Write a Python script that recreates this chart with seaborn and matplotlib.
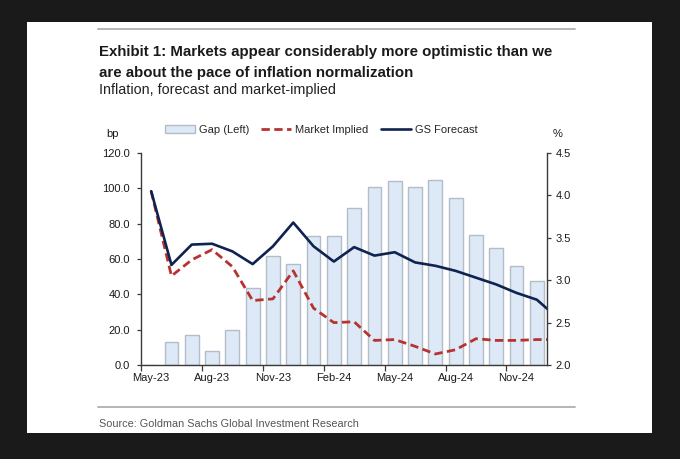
import numpy as np
import pandas as pd
import matplotlib
matplotlib.use("Agg")
import matplotlib.pyplot as plt
import seaborn as sns
from matplotlib.patches import Rectangle, Patch
from matplotlib.lines import Line2D

# ---------------- data ----------------
months = ["May-23", "Jun-23", "Jul-23", "Aug-23", "Sep-23", "Oct-23", "Nov-23",
          "Dec-23", "Jan-24", "Feb-24", "Mar-24", "Apr-24", "May-24", "Jun-24",
          "Jul-24", "Aug-24", "Sep-24", "Oct-24", "Nov-24", "Dec-24"]
gap_bp = [0.0, 13.0, 17.0, 8.0, 20.0, 43.7, 61.7, 57.0, 72.8, 72.8, 88.7,
          101.0, 104.0, 100.7, 104.9, 94.3, 73.6, 66.2, 56.2, 47.5]
line_months = months + ["Jan-25"]
gs_forecast = [4.05, 3.18, 3.42, 3.43, 3.34, 3.19, 3.40, 3.68, 3.40, 3.22, 3.39,
               3.29, 3.33, 3.21, 3.17, 3.11, 3.03, 2.95, 2.85, 2.77, 2.56]
market_implied = [4.05, 3.05, 3.24, 3.36, 3.16, 2.76, 2.78, 3.11, 2.67, 2.50, 2.51,
                  2.29, 2.30, 2.22, 2.13, 2.18, 2.31, 2.29, 2.29, 2.30, 2.30]
left_ticks = [0, 20, 40, 60, 80, 100, 120]
right_ticks = [2.0, 2.5, 3.0, 3.5, 4.0, 4.5]

# ---------------- style ----------------
sns.set_theme(style="white")
plt.rcParams["font.family"] = ["Liberation Sans", "DejaVu Sans"]

W, H = 680, 459
fig = plt.figure(figsize=(W / 100, H / 100), dpi=100)
fig.patch.set_facecolor("#1a1a1a")


def fx(x):
    return x / W


def fy(y):
    return 1 - y / H


# white panel (behind everything)
fig.patches.append(Rectangle((fx(27), fy(433)), (652 - 27) / W, (433 - 22) / H,
                             transform=fig.transFigure, facecolor="white",
                             edgecolor="none", zorder=-10))
# separator lines
for yy in (29, 407):
    fig.add_artist(Line2D([fx(98), fx(575)], [fy(yy), fy(yy)],
                          transform=fig.transFigure, color="#b5b5b5", lw=1.4,
                          zorder=-5))

# texts
fig.text(fx(99), fy(56), "Exhibit 1: Markets appear considerably more optimistic than we",
         weight="bold", fontsize=10.8, color="#1a1a1a", va="baseline")
fig.text(fx(99), fy(77), "are about the pace of inflation normalization",
         weight="bold", fontsize=10.8, color="#1a1a1a", va="baseline")
fig.text(fx(99), fy(94), "Inflation, forecast and market-implied",
         fontsize=10.4, color="#222222", va="baseline")
fig.text(fx(99), fy(427), "Source: Goldman Sachs Global Investment Research",
         fontsize=7.8, color="#555555", va="baseline")
fig.text(fx(113), fy(134), "bp", fontsize=8, color="#1a1a1a", ha="center", va="center")
fig.text(fx(558), fy(134), "%", fontsize=8, color="#1a1a1a", ha="center", va="center")

# axes
ax = fig.add_axes([fx(141), fy(365), (547 - 141) / W, (365 - 153) / H])
ax.set_facecolor("none")

bar_face = "#dde9f6"
bar_edge = "#b3bcc7"
navy = "#0e2350"
red = "#b73330"

df_bar = pd.DataFrame({"month": months, "gap": gap_bp})
sns.barplot(data=df_bar, x="month", y="gap", ax=ax, color=bar_face,
            saturation=1, width=0.68, edgecolor=bar_edge, linewidth=1.0,
            errorbar=None)

ax2 = ax.twinx()
pos = np.arange(len(line_months))
sns.lineplot(x=pos, y=market_implied, ax=ax2, color=red, lw=2.0,
             linestyle=(0, (3.0, 1.6)))
sns.lineplot(x=pos, y=gs_forecast, ax=ax2, color=navy, lw=1.9)

ax.set_ylim(0, 120)
ax2.set_ylim(2.0, 4.5)
ax.set_xlim(-0.5, len(months) - 0.5)
ax2.set_xlim(-0.5, len(months) - 0.5)

ax.set_yticks(left_ticks)
ax.set_yticklabels([f"{v:.1f}" for v in left_ticks])
ax2.set_yticks(right_ticks)
ax2.set_yticklabels([f"{v:.1f}" for v in right_ticks])

major = np.arange(-0.5, len(months) - 1, 3)
ax.set_xticks(major)
ax.set_xticklabels([""] * len(major))
minor = np.arange(0, len(months), 3)
ax.set_xticks(minor, minor=True)
ax.set_xticklabels([months[i] for i in minor], minor=True)
ax.set_xlabel("")
ax.set_ylabel("")
ax2.set_ylabel("")

spine_c = "#3a3a3a"
for a in (ax, ax2):
    for s in a.spines.values():
        s.set_visible(False)
ax.spines["left"].set_visible(True)
ax.spines["bottom"].set_visible(True)
ax2.spines["right"].set_visible(True)
for s in (ax.spines["left"], ax.spines["bottom"], ax2.spines["right"]):
    s.set_color(spine_c)
    s.set_linewidth(1.0)

ax.tick_params(axis="y", which="major", direction="out", length=3, width=0.9,
               color=spine_c, pad=5, labelsize=8, labelcolor="#1a1a1a", left=True)
ax.tick_params(axis="x", which="major", direction="out", length=4, width=0.9,
               color=spine_c, bottom=True)
ax.tick_params(axis="x", which="minor", length=0, pad=6, labelsize=8,
               labelcolor="#1a1a1a", bottom=True)
ax2.tick_params(axis="y", direction="out", length=3, width=0.9, color=spine_c,
                pad=3, labelsize=8, labelcolor="#1a1a1a", right=True)
ax2.tick_params(axis="x", bottom=False, labelbottom=False)

handles = [Patch(facecolor=bar_face, edgecolor=bar_edge, linewidth=1.0),
           Line2D([], [], color=red, lw=2.0, linestyle=(0, (3.0, 1.6))),
           Line2D([], [], color=navy, lw=1.9)]
fig.legend(handles, ["Gap (Left)", "Market Implied", "GS Forecast"],
           loc="center", bbox_to_anchor=(fx(321), fy(130)), ncol=3,
           frameon=False, fontsize=8, handlelength=2.7, handletextpad=0.35,
           columnspacing=1.1, borderaxespad=0, borderpad=0)

fig.savefig("out.png", dpi=100, facecolor=fig.get_facecolor())
